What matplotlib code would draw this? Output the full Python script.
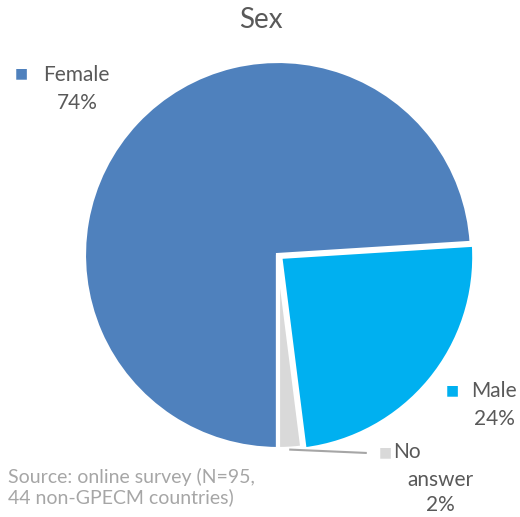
import numpy as np
import matplotlib
matplotlib.use("Agg")
import matplotlib.pyplot as plt

categories = ["Female", "Male", "No\nanswer"]
values = [74, 24, 2]
pct_labels = ["74%", "24%", "2%"]
colors = ["#4F81BD", "#00B0F0", "#D9D9D9"]
title = "Sex"
source = "Source: online survey (N=95,\n44 non-GPECM countries)"

plt.rcParams['font.family'] = ['Lato', 'DejaVu Sans']
txt = "#595959"

W, H = 520, 517
fig = plt.figure(figsize=(W/100, H/100), dpi=100)
cx, cy, r = 278, 255, 195
ax = fig.add_axes([(cx - r)/W, (H - cy - r)/H, 2*r/W, 2*r/H])

wedges, _ = ax.pie(values, colors=colors, startangle=-90, counterclock=False,
                   explode=[0, 0.015, 0.0], radius=0.995,
                   wedgeprops=dict(edgecolor='white', linewidth=3))
ax.set_xlim(-1, 1)
ax.set_ylim(-1, 1)
ax.set_aspect('equal')
ax.axis('off')

# leader line for "No answer"
theta = np.deg2rad((wedges[2].theta1 + wedges[2].theta2) / 2)
x0, y0 = np.cos(theta) * 1.0, np.sin(theta) * 1.0
ax.plot([x0, 0.45], [y0, -1.015], color="#A6A6A6", lw=1.5, clip_on=False)

def fx(px): return px / W
def fy(py): return 1 - py / H

fs = 15
fig.text(fx(261), fy(20), title, ha='center', va='center', fontsize=20, color=txt)

# Female label
fig.text(fx(21), fy(73), "■", ha='center', va='center', fontsize=10, color=colors[0])
fig.text(fx(76), fy(75), categories[0], ha='center', va='center', fontsize=fs, color=txt)
fig.text(fx(77), fy(103), pct_labels[0], ha='center', va='center', fontsize=fs, color=txt)

# Male label
fig.text(fx(452), fy(390), "■", ha='center', va='center', fontsize=10, color=colors[1])
fig.text(fx(494), fy(391), categories[1], ha='center', va='center', fontsize=fs, color=txt)
fig.text(fx(494), fy(419), pct_labels[1], ha='center', va='center', fontsize=fs, color=txt)

# No answer label
fig.text(fx(385), fy(452), "■", ha='center', va='center', fontsize=10, color=colors[2])
fig.text(fx(407), fy(452), "No", ha='center', va='center', fontsize=fs, color=txt)
fig.text(fx(440), fy(480), "answer", ha='center', va='center', fontsize=fs, color=txt)
fig.text(fx(440), fy(505), pct_labels[2], ha='center', va='center', fontsize=fs, color=txt)

fig.text(fx(8), fy(487), source, ha='left', va='center', fontsize=14, color="#A6A6A6",
         linespacing=1.2)

fig.savefig("out.png", dpi=100)
